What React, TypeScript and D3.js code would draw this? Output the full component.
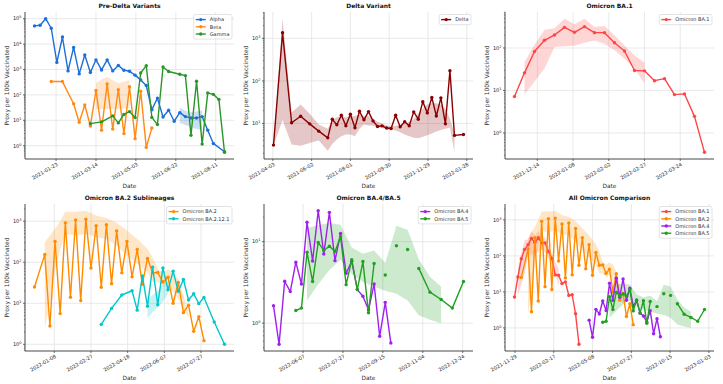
import React from "react";
import * as d3 from "d3";

// Weekly reporting periods, counted in weeks from Sunday 2020-12-27
const EPOCH = Date.UTC(2020, 11, 27);
const DAY = 86400000;

const COLORS = {
  alpha: "#1c6ed8",
  beta: "#ff8a14",
  gamma: "#2a962a",
  delta: "#8b0000",
  ba1: "#ff4545",
  ba2: "#ff8c00",
  ba2121: "#00c8cc",
  ba4: "#a020f0",
  ba5: "#22a022",
};

// ---- Pre-Delta ----
const alphaWeeks = [0, 1, 2, 3, 4, 5, 6, 7, 8, 9, 10, 11, 12, 13, 14, 15, 16, 17, 18, 19, 20, 21, 22, 23, 24, 25, 26, 27, 28, 29, 30, 31, 32, 34];
const alphaValues = [52000, 55000, 100000, 42000, 1900, 19000, 880, 7400, 670, 3700, 760, 2400, 960, 2400, 880, 1450, 940, 850, 600, 390, 235, 26, 75, 13.5, 25, 9.2, 20, 14, 12.4, 12.4, 14, 4.1, 1.23, 0.58];
const alphaBandWeeks = [26, 27, 28, 29, 30];
const alphaBandLo = [8, 6.5, 5.5, 4.6, 4];
const alphaBandHi = [31, 24, 21, 22, 25];

const betaWeeks = [3, 5, 7, 8, 9, 10, 11, 12, 13, 14, 15, 16, 17, 18, 19, 20, 21];
const betaValues = [335, 335, 45, 8.4, 40, 6, 150, 4.1, 270, 4.5, 160, 3.0, 210, 1.9, 140, 0.86, 5.0];
const betaBandWeeks = [11, 12, 13, 14, 15, 16, 17];
const betaBandLo = [28, 28, 28, 28, 28, 29, 29];
const betaBandHi = [290, 400, 520, 380, 290, 330, 390];

const gammaWeeks = [10, 12, 14, 15, 16, 17, 18, 19, 20, 21, 22, 23, 24, 26, 27, 28, 29, 30, 31, 32, 33, 34];
const gammaValues = [7.4, 8.7, 15, 7.9, 17, 22, 12.8, 730, 1420, 13, 6.8, 1260, 830, 650, 575, 2.6, 345, 1.16, 120, 105, 66, 0.55];

// ---- Delta ----
const deltaWeeks = [14, 16, 18, 20, 22, 24, 26, 27, 28, 29, 30, 31, 32, 33, 34, 35, 36, 37, 38, 39, 40, 41, 42, 43, 44, 45, 46, 47, 48, 49, 50, 51, 52, 53, 54, 56];
const deltaValues = [3.1, 1350, 10.4, 14.8, 9.8, 6.6, 4.6, 12.6, 9.3, 15.6, 8.8, 16.5, 7.9, 19.4, 12.2, 19, 11.5, 8.5, 8.8, 7.8, 7.6, 15.6, 8.4, 11, 8.8, 18.7, 12.6, 32.6, 17.7, 41, 15, 40, 9.8, 173, 5.25, 5.5];
const deltaBandWeeks = deltaWeeks.slice(0, 35);
const deltaBandLo = [3.0, 12, 3.2, 3.0, 3.5, 4.0, 2.3, 3.3, 4.2, 5, 5.5, 5.5, 5.0, 7.5, 9.5, 9, 8.8, 8.3, 7.8, 7.3, 7.2, 6.8, 6.2, 5.5, 5, 4.6, 4.5, 4.9, 5.3, 5.8, 6.5, 7, 7.5, 8, 2.1];
const deltaBandHi = [3.3, 2900, 18, 28, 17, 9.5, 7.5, 12, 14, 15, 14, 15, 15, 16, 15, 15, 13, 11, 10, 9, 8.5, 9, 9, 10, 11, 13, 17, 22, 28, 30, 30, 28, 22, 13, 6];

// ---- Omicron ----
const ba1Weeks = [48, 49, 50, 51, 52, 53, 54, 55, 56, 57, 58, 59, 60, 61, 62, 63, 64, 65, 66, 67];
const ba1Values = [7.2, 26, 83, 152, 203, 306, 234, 318, 230, 230, 133, 85, 29.6, 29, 17, 19, 8, 8.3, 2.46, 0.35];
const ba1BandWeeks = [49, 50, 51, 52, 53, 54, 55, 56, 57, 58, 59, 60, 61];
const ba1BandLo = [8.1, 16, 33, 105, 110, 113, 133, 150, 126, 88, 56, 33, 14.5];
const ba1BandHi = [47, 120, 270, 290, 490, 360, 490, 312, 330, 200, 115, 67, 45];

const ba2Weeks = [50, 52, 53, 54, 55, 56, 57, 58, 59, 60, 61, 62, 63, 64, 65, 66, 67, 68, 69, 70, 71, 72, 73, 74, 75, 76, 77, 78, 79, 80, 81, 82, 83];
const ba2Values = [25, 155, 2.8, 320, 5.6, 910, 14, 1070, 11.6, 1120, 72, 770, 24.5, 815, 30, 580, 55, 320, 44, 205, 29, 124, 55, 56, 33, 43, 10, 32, 5.9, 9, 2.07, 4.7, 1.23];
const ba2BandWeeks = [52, 53, 54, 55, 56, 58, 60, 62, 64, 66, 68, 70, 72, 73, 74, 75, 76, 77, 78, 79, 80];
const ba2BandLo = [2.5, 10, 60, 200, 490, 450, 490, 410, 370, 255, 146, 91, 57, 33, 33, 25, 30, 19, 13, 7, 4.5];
const ba2BandHi = [310, 450, 650, 1000, 1700, 1700, 1800, 1370, 1200, 910, 590, 370, 212, 133, 69, 57, 67, 57, 38, 16, 5.5];

const ba2121Weeks = [63, 65, 67, 69, 70, 71, 72, 73, 74, 75, 76, 77, 78, 79, 80, 81, 82, 83, 85, 87];
const ba2121Values = [3.06, 7.5, 15.9, 20.2, 6.8, 46, 8.5, 76, 9.2, 72, 21.4, 60, 19.5, 38, 12, 17, 9.8, 13.8, 3.5, 1.0];
const ba2121BandWeeks = [72, 73, 74, 75, 76];
const ba2121BandLo = [4.3, 6, 8, 11, 17];
const ba2121BandHi = [13, 16, 20, 27, 33];

const ba4Weeks = [70, 71, 72, 73, 74, 75, 76, 77, 78, 79, 80, 81, 82, 83, 84, 85, 86, 87, 88, 89, 90, 91];
const ba4Values = [1.64, 0.55, 3.27, 2.44, 5.6, 3.02, 17.3, 5.8, 24, 7.07, 22.9, 5.85, 12.6, 4.1, 5.75, 2.58, 2.14, 1.46, 3.02, 0.69, 1.8, 0.57];

// null = missing report, the line breaks there
const ba5Weeks = [74, 75, 76, 77, 78, 79, 80, 81, 82, 83, 84, 85, 86, 87, 88, 89, 90, 91, 92, 93, 94, 95, 96, 98, 100, 102, 104];
const ba5Values = [1.43, 1.53, 7.4, 3.24, 9.8, 7.8, 8.8, 7.6, 11.5, 2.97, 6.0, 2.58, 5.7, 1.34, 5.4, null, 3.9, null, 8.9, null, 8.0, null, 4.7, 2.4, 1.95, 1.53, 3.24];
const ba5BandWeeks = [76, 78, 80, 82, 84, 86, 88, 90, 92, 94, 96, 98, 100];
const ba5BandLo = [1.9, 3.0, 4.5, 6.0, 4.0, 3.2, 2.8, 2.5, 2.3, 1.9, 1.25, 1.1, 1.0];
const ba5BandHi = [14.6, 16, 17, 16.1, 8.5, 7.1, 7.8, 5.5, 15.7, 14, 6.1, 3.7, 2.8];

// date tick labels per panel
const ticksPreDelta = ["2021-01-23", "2021-03-14", "2021-05-03", "2021-06-22", "2021-08-11"];
const ticksDelta = ["2021-04-03", "2021-06-02", "2021-08-01", "2021-09-30", "2021-11-29", "2022-01-28"];
const ticksBA1 = ["2021-12-14", "2022-01-08", "2022-02-02", "2022-02-27", "2022-03-24"];
const ticksBA2 = ["2022-01-08", "2022-02-27", "2022-04-18", "2022-06-07", "2022-07-27"];
const ticksBA45 = ["2022-06-07", "2022-07-27", "2022-09-15", "2022-11-04", "2022-12-24"];
const ticksAll = ["2021-11-29", "2022-02-17", "2022-05-08", "2022-07-27", "2022-10-15", "2023-01-03"];

type Series = { name: string; color: string; weeks: number[]; values: (number | null)[] };
type Band = { color: string; weeks: number[]; lo: number[]; hi: number[] };

const alpha: Series = { name: "Alpha", color: COLORS.alpha, weeks: alphaWeeks, values: alphaValues };
const beta: Series = { name: "Beta", color: COLORS.beta, weeks: betaWeeks, values: betaValues };
const gamma: Series = { name: "Gamma", color: COLORS.gamma, weeks: gammaWeeks, values: gammaValues };
const delta: Series = { name: "Delta", color: COLORS.delta, weeks: deltaWeeks, values: deltaValues };
const ba1: Series = { name: "Omicron BA.1", color: COLORS.ba1, weeks: ba1Weeks, values: ba1Values };
const ba2: Series = { name: "Omicron BA.2", color: COLORS.ba2, weeks: ba2Weeks, values: ba2Values };
const ba2121: Series = { name: "Omicron BA.2.12.1", color: COLORS.ba2121, weeks: ba2121Weeks, values: ba2121Values };
const ba4: Series = { name: "Omicron BA.4", color: COLORS.ba4, weeks: ba4Weeks, values: ba4Values };
const ba5: Series = { name: "Omicron BA.5", color: COLORS.ba5, weeks: ba5Weeks, values: ba5Values };

const alphaBand: Band = { color: COLORS.alpha, weeks: alphaBandWeeks, lo: alphaBandLo, hi: alphaBandHi };
const betaBand: Band = { color: COLORS.beta, weeks: betaBandWeeks, lo: betaBandLo, hi: betaBandHi };
const deltaBand: Band = { color: COLORS.delta, weeks: deltaBandWeeks, lo: deltaBandLo, hi: deltaBandHi };
const ba1Band: Band = { color: COLORS.ba1, weeks: ba1BandWeeks, lo: ba1BandLo, hi: ba1BandHi };
const ba2Band: Band = { color: COLORS.ba2, weeks: ba2BandWeeks, lo: ba2BandLo, hi: ba2BandHi };
const ba2121Band: Band = { color: COLORS.ba2121, weeks: ba2121BandWeeks, lo: ba2121BandLo, hi: ba2121BandHi };
const ba5Band: Band = { color: COLORS.ba5, weeks: ba5BandWeeks, lo: ba5BandLo, hi: ba5BandHi };

const FONT = "'DejaVu Sans', Verdana, sans-serif";
const AX_W = 209;
const AX_H = 147;
const COLS = [25, 264, 505];
const ROWS = [12, 204];
const LW = 1.4;
const MR = 1.7;

const parseDay = d3.utcParse("%Y-%m-%d");
const weekDate = (w: number) => new Date(EPOCH + w * 7 * DAY);

let measureCtx: CanvasRenderingContext2D | null = null;
function textWidth(s: string, size: number) {
  if (!measureCtx) measureCtx = document.createElement("canvas").getContext("2d");
  if (!measureCtx) return s.length * size * 0.6;
  measureCtx.font = `${size}px 'DejaVu Sans'`;
  return measureCtx.measureText(s).width;
}

type PanelProps = {
  title: string;
  left: number;
  top: number;
  series: Series[];
  bands: Band[];
  xTicks: string[];
};

function Panel({ title, left, top, series, bands, xTicks }: PanelProps) {
  const right = left + AX_W;
  const bottom = top + AX_H;

  const weeks = [...series.flatMap((s) => s.weeks), ...bands.flatMap((b) => b.weeks)];
  const [w0, w1] = d3.extent(weeks) as [number, number];
  const wPad = (w1 - w0) * 0.05;
  const x = d3.scaleUtc().domain([weekDate(w0 - wPad), weekDate(w1 + wPad)]).range([left, right]);

  const vals: number[] = [
    ...series.flatMap((s) => s.values.filter((v): v is number => v != null)),
    ...bands.flatMap((b) => [...b.lo, ...b.hi]),
  ];
  const l0 = Math.log10(d3.min(vals)!);
  const l1 = Math.log10(d3.max(vals)!);
  const lPad = (l1 - l0) * 0.05;
  const y = d3.scaleLog().domain([10 ** (l0 - lPad), 10 ** (l1 + lPad)]).range([bottom, top]);

  const decades = d3.range(Math.ceil(l0 - lPad), Math.floor(l1 + lPad) + 1);
  const minor: number[] = [];
  for (let k = Math.floor(l0 - lPad); k <= Math.ceil(l1 + lPad); k++) {
    for (let m = 2; m <= 9; m++) {
      const v = m * 10 ** k;
      if (v >= y.domain()[0] && v <= y.domain()[1]) minor.push(v);
    }
  }

  const line = d3
    .line<[number, number | null]>()
    .defined((d) => d[1] != null)
    .x((d) => x(weekDate(d[0])))
    .y((d) => y(d[1] as number));

  const area = d3
    .area<[number, number, number]>()
    .x((d) => x(weekDate(d[0])))
    .y0((d) => y(d[1]))
    .y1((d) => y(d[2]));

  // legend, upper right
  const lfs = 5;
  const rowH = 7.2;
  const maxText = d3.max(series, (s) => textWidth(s.name, lfs)) ?? 0;
  const legW = 2 + 10 + 4 + maxText + 2.5;
  const legH = series.length * rowH + 3;
  const legX = right - 2 - legW;
  const legY = top + 2.5;

  return (
    <g>
      {/* grid */}
      {xTicks.map((t) => {
        const xx = x(parseDay(t)!);
        return <line key={"gx" + t} x1={xx} x2={xx} y1={top} y2={bottom} stroke="#e3e3e3" strokeWidth={0.8} />;
      })}
      {decades.map((k) => (
        <line key={"gy" + k} x1={left} x2={right} y1={y(10 ** k)} y2={y(10 ** k)} stroke="#e3e3e3" strokeWidth={0.8} />
      ))}

      {/* uncertainty bands */}
      {bands.map((b, i) => (
        <path
          key={"band" + i}
          d={area(b.weeks.map((w, j) => [w, b.lo[j], b.hi[j]] as [number, number, number])) ?? ""}
          fill={b.color}
          fillOpacity={0.22}
          stroke="none"
        />
      ))}

      {/* series */}
      {series.map((s) => {
        const pts = s.weeks.map((w, j) => [w, s.values[j]] as [number, number | null]);
        return (
          <g key={s.name}>
            <path d={line(pts) ?? ""} fill="none" stroke={s.color} strokeWidth={LW} strokeLinejoin="round" />
            {pts
              .filter((p) => p[1] != null)
              .map((p) => (
                <circle key={p[0]} cx={x(weekDate(p[0]))} cy={y(p[1] as number)} r={MR} fill={s.color} />
              ))}
          </g>
        );
      })}

      {/* spines */}
      <line x1={left} x2={left} y1={top} y2={bottom} stroke="#333" strokeWidth={0.9} />
      <line x1={left} x2={right} y1={bottom} y2={bottom} stroke="#333" strokeWidth={0.9} />

      {/* y ticks */}
      {minor.map((v) => (
        <line key={"my" + v} x1={left - 1.1} x2={left} y1={y(v)} y2={y(v)} stroke="#333" strokeWidth={0.5} />
      ))}
      {decades.map((k) => (
        <g key={"ty" + k}>
          <line x1={left - 2} x2={left} y1={y(10 ** k)} y2={y(10 ** k)} stroke="#333" strokeWidth={0.7} />
          <text x={left - 3.5} y={y(10 ** k) + 1.8} textAnchor="end" fontSize={5} fill="#222" fontFamily={FONT}>
            10
            <tspan fontSize={3.5} dy={-2}>
              {k}
            </tspan>
          </text>
        </g>
      ))}

      {/* x ticks */}
      {xTicks.map((t) => {
        const xx = x(parseDay(t)!);
        return (
          <g key={"tx" + t}>
            <line x1={xx} x2={xx} y1={bottom} y2={bottom + 2} stroke="#333" strokeWidth={0.7} />
            <text
              transform={`translate(${xx + 0.5},${bottom + 3.2}) rotate(-30)`}
              textAnchor="end"
              dy="0.72em"
              fontSize={5}
              fill="#222"
              fontFamily={FONT}
            >
              {t}
            </text>
          </g>
        );
      })}

      {/* labels */}
      <text x={(left + right) / 2} y={top - 4} textAnchor="middle" fontSize={6} fontWeight="bold" fill="#111" fontFamily={FONT}>
        {title}
      </text>
      <text x={(left + right) / 2} y={bottom + 29} textAnchor="middle" fontSize={5.8} fill="#333" fontFamily={FONT}>
        Date
      </text>
      <text
        transform={`translate(${left - 16.5},${(top + bottom) / 2}) rotate(-90)`}
        textAnchor="middle"
        fontSize={6}
        fill="#333"
        fontFamily={FONT}
      >
        Proxy per 100k Vaccinated
      </text>

      {/* legend */}
      <rect x={legX} y={legY} width={legW} height={legH} rx={1.5} fill="#fff" fillOpacity={0.8} stroke="#d0d0d0" strokeWidth={0.6} />
      {series.map((s, i) => {
        const cy = legY + 1.5 + rowH * (i + 0.5);
        return (
          <g key={"leg" + s.name}>
            <line x1={legX + 2} x2={legX + 12} y1={cy} y2={cy} stroke={s.color} strokeWidth={LW} />
            <circle cx={legX + 7} cy={cy} r={MR} fill={s.color} />
            <text x={legX + 16} y={cy + 1.8} fontSize={lfs} fill="#333" fontFamily={FONT}>
              {s.name}
            </text>
          </g>
        );
      })}
    </g>
  );
}

export default function App() {
  return (
    <div style={{ position: "fixed", left: 0, top: 0 }}>
      <svg width={723} height={384} viewBox="0 0 723 384" style={{ display: "block", background: "#fff" }}>
        <Panel title="Pre-Delta Variants" left={COLS[0]} top={ROWS[0]} series={[alpha, beta, gamma]} bands={[alphaBand, betaBand]} xTicks={ticksPreDelta} />
        <Panel title="Delta Variant" left={COLS[1]} top={ROWS[0]} series={[delta]} bands={[deltaBand]} xTicks={ticksDelta} />
        <Panel title="Omicron BA.1" left={COLS[2]} top={ROWS[0]} series={[ba1]} bands={[ba1Band]} xTicks={ticksBA1} />
        <Panel title="Omicron BA.2 Sublineages" left={COLS[0]} top={ROWS[1]} series={[ba2, ba2121]} bands={[ba2Band, ba2121Band]} xTicks={ticksBA2} />
        <Panel title="Omicron BA.4/BA.5" left={COLS[1]} top={ROWS[1]} series={[ba4, ba5]} bands={[ba5Band]} xTicks={ticksBA45} />
        <Panel
          title="All Omicron Comparison"
          left={COLS[2]}
          top={ROWS[1]}
          series={[ba1, ba2, ba4, ba5]}
          bands={[ba1Band, ba2Band, ba5Band]}
          xTicks={ticksAll}
        />
      </svg>
    </div>
  );
}
